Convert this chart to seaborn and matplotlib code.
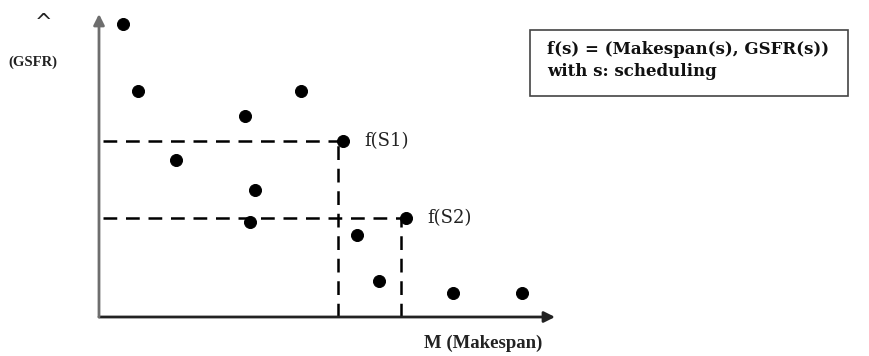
import matplotlib
matplotlib.use("Agg")
import matplotlib.pyplot as plt
import seaborn as sns
import pandas as pd

# Candidate schedules: makespan vs GSFR
makespan = [2.4, 3.9, 20.2, 14.6, 24.4, 7.7, 15.6, 15.1, 30.7, 25.8, 28.0, 35.4, 42.3]
gsfr = [29.3, 22.6, 22.6, 20.1, 17.6, 15.7, 12.7, 9.5, 9.9, 8.2, 3.6, 2.4, 2.4]

# Highlighted solutions f(S1), f(S2)
marked_labels = ["f(S1)", "f(S2)"]
marked_makespan = [24.4, 30.7]
marked_gsfr = [17.6, 9.9]

x_label = "M (Makespan)"
y_label = "(GSFR)"
box_lines = ["f(s) = (Makespan(s), GSFR(s))", "with s: scheduling"]

sns.set_style("white")
df = pd.DataFrame({"Makespan": makespan, "GSFR": gsfr})

fig = plt.figure(figsize=(8.69, 3.56), dpi=100)
ax = fig.add_axes([0, 0, 1, 1])
ax.set_xlim(-9.9, 77.0)
ax.set_ylim(-3.9, 31.7)
ax.axis("off")

# Axes drawn as arrows from the origin
ax.annotate("", xy=(45.6, 0), xytext=(0, 0),
            arrowprops=dict(arrowstyle="-|>", color="#222222", lw=2.0,
                            mutation_scale=16, shrinkA=0, shrinkB=0))
ax.annotate("", xy=(0, 30.3), xytext=(0, 0),
            arrowprops=dict(arrowstyle="-|>", color="#6e6e6e", lw=2.0,
                            mutation_scale=16, shrinkA=0, shrinkB=0))

# Dashed projections of the marked solutions onto both axes
for mx, my in zip(marked_makespan, marked_gsfr):
    ax.plot([0.4, mx], [my, my], color="black", lw=1.8, ls=(0, (5.5, 3.5)))
    ax.plot([mx - 0.5, mx - 0.5], [0, my], color="black", lw=1.8, ls=(0, (5.5, 3.5)))

sns.scatterplot(data=df, x="Makespan", y="GSFR", ax=ax, s=75,
                color="black", edgecolor="black", zorder=5, legend=False)

for lab, mx, my in zip(marked_labels, marked_makespan, marked_gsfr):
    ax.text(mx + 2.1, my, lab, fontsize=13, family="DejaVu Serif",
            va="center", ha="left", color="#222222")

ax.text(-5.5, 29.4, "^", fontsize=15, family="DejaVu Sans", ha="center",
        va="center", color="#222222")
ax.text(-6.6, 25.5, y_label, fontsize=10.5, family="Liberation Serif",
        fontweight="bold", ha="center", va="center", color="#222222")
ax.text(38.4, -2.6, x_label, fontsize=13.5, family="Liberation Serif",
        fontweight="bold", ha="center", va="center", color="#222222")

# Definition box
box = plt.Rectangle((43.1, 22.1), 31.8, 6.6, fill=False, edgecolor="#444444", lw=1.2)
ax.add_patch(box)
ax.text(44.8, 26.7, box_lines[0], fontsize=12, family="DejaVu Serif",
        fontweight="bold", ha="left", va="center", color="#111111")
ax.text(44.8, 24.5, box_lines[1], fontsize=12, family="DejaVu Serif",
        fontweight="bold", ha="left", va="center", color="#111111")

fig.savefig("out.png", dpi=100)
